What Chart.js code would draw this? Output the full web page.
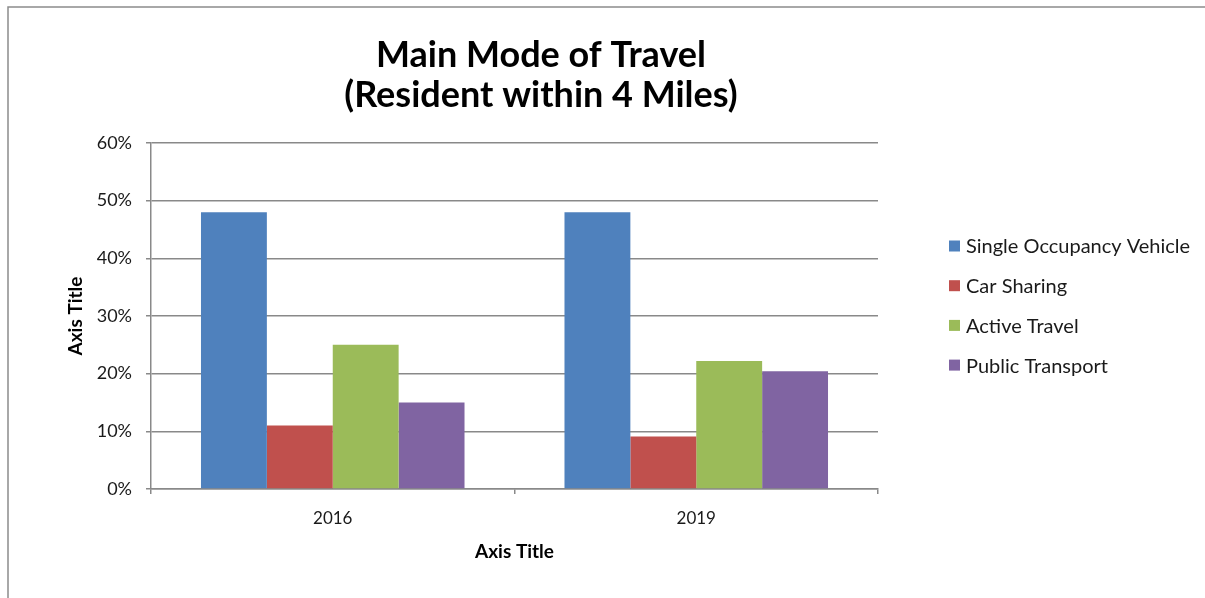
<!DOCTYPE html>
<html>
<head>
<meta charset="utf-8">
<style>
  html, body { margin: 0; padding: 0; background: #fff; }
  #wrap { position: relative; width: 1205px; height: 598px; }
</style>
<script src="https://cdn.jsdelivr.net/npm/chart.js@4/dist/chart.umd.min.js"></script>
</head>
<body>
<div id="wrap"><canvas id="chart" width="1205" height="598"></canvas></div>
<script>
// Survey years
const categories = ['2016', '2019'];

// Share of residents (within 4 miles) by main mode, in percent
const singleOccupancy = [48, 48];
const carSharing = [11, 9.1];
const activeTravel = [25, 22.2];
const publicTransport = [15, 20.4];

const seriesNames = ['Single Occupancy Vehicle', 'Car Sharing', 'Active Travel', 'Public Transport'];
const seriesColors = ['#4F81BD', '#C0504D', '#9BBB59', '#8064A2'];

const titleLines = ['Main Mode of Travel', '(Resident within 4 Miles)'];
const xAxisTitle = 'Axis Title';
const yAxisTitle = 'Axis Title';

const FONT = 'Lato, "Open Sans", sans-serif';
const GRID = '#898989';
const TEXT = '#1a1a1a';

// Frame, heading and legend drawn around the plot
const decorations = {
  id: 'decorations',
  beforeDraw(chart) {
    const ctx = chart.ctx;
    ctx.save();
    ctx.fillStyle = '#ffffff';
    ctx.fillRect(0, 0, chart.width, chart.height);
    ctx.strokeStyle = '#8c8c8c';
    ctx.lineWidth = 1.5;
    ctx.beginPath();
    ctx.moveTo(8, chart.height);
    ctx.lineTo(8, 7);
    ctx.lineTo(chart.width, 7);
    ctx.stroke();
    ctx.restore();
  },
  afterDraw(chart) {
    const ctx = chart.ctx;
    ctx.save();
    // heading
    ctx.fillStyle = '#000';
    ctx.font = 'bold 36px ' + FONT;
    ctx.textAlign = 'center';
    ctx.textBaseline = 'alphabetic';
    ctx.fillText(titleLines[0], 541, 67);
    ctx.fillText(titleLines[1], 541, 107);
    // legend
    ctx.font = '20px ' + FONT;
    ctx.textAlign = 'left';
    ctx.textBaseline = 'middle';
    chart.data.datasets.forEach((ds, i) => {
      const cy = 246 + i * 39.7;
      ctx.fillStyle = ds.backgroundColor;
      ctx.fillRect(949, cy - 5.5, 11, 11);
      ctx.fillStyle = TEXT;
      ctx.fillText(ds.label, 966, cy + 1);
    });
    ctx.restore();
  }
};

const seriesValues = [singleOccupancy, carSharing, activeTravel, publicTransport];

new Chart(document.getElementById('chart'), {
  type: 'bar',
  data: {
    labels: categories,
    datasets: seriesNames.map((name, i) => ({
      label: name,
      data: seriesValues[i],
      backgroundColor: seriesColors[i],
      borderWidth: 0,
      barPercentage: 1.0,
      categoryPercentage: 0.725
    }))
  },
  options: {
    responsive: false,
    animation: false,
    layout: { padding: { top: 143, right: 327, bottom: 0, left: 0 } },
    plugins: {
      legend: { display: false },
      title: { display: false },
      tooltip: { enabled: false }
    },
    scales: {
      x: {
        afterFit(scale) { scale.height = 109; },
        grid: {
          offset: true,
          drawOnChartArea: false,
          drawTicks: true,
          tickLength: 5,
          color: GRID,
          lineWidth: 1.5
        },
        border: { color: GRID, width: 1.5 },
        ticks: {
          color: TEXT,
          font: { family: FONT, size: 17 },
          padding: 14
        },
        title: {
          display: true,
          text: xAxisTitle,
          color: '#000',
          font: { family: FONT, size: 19, weight: 'bold' },
          padding: { top: 0, bottom: 34.5 }
        }
      },
      y: {
        min: 0,
        max: 60,
        afterFit(scale) { scale.width = 151; },
        grid: {
          color: GRID,
          lineWidth: 1.5,
          drawTicks: true,
          tickLength: 5
        },
        border: { color: GRID, width: 1.5 },
        ticks: {
          stepSize: 10,
          color: TEXT,
          font: { family: FONT, size: 18 },
          padding: 14,
          callback: (v) => v + '%'
        },
        title: {
          display: true,
          text: yAxisTitle,
          color: '#000',
          font: { family: FONT, size: 19, weight: 'bold' },
          padding: { top: 64.5, bottom: 0 }
        }
      }
    }
  },
  plugins: [decorations]
});
</script>
</body>
</html>
